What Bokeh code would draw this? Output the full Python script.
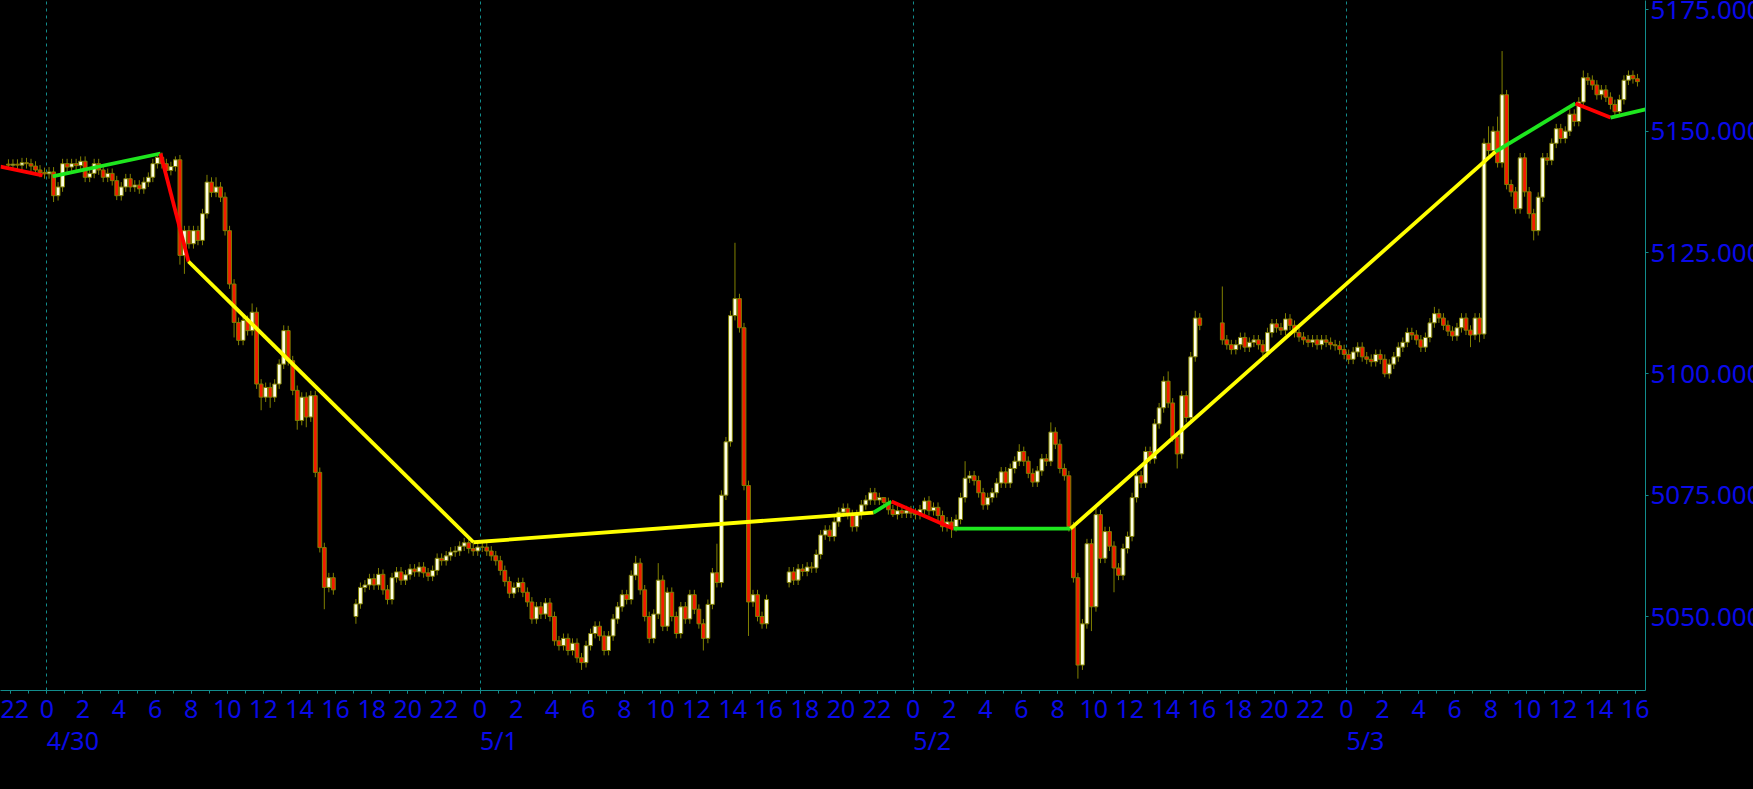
import numpy as np
from bokeh.plotting import figure
from bokeh.layouts import row
from bokeh.models import Range1d, FixedTicker, LinearAxis
from bokeh.core.properties import value
from bokeh.embed import file_html
from bokeh.resources import INLINE

# ---------------- data ----------------
# time axis: hours counted from 4/30 00:00
hour_ticks = list(range(-2, 89, 2))
hour_labels = [str(h % 24) for h in hour_ticks]
minor_hours = list(range(-2, 89))
day_ticks = [0, 24, 48, 72]
day_labels = ["4/30", "5/1", "5/2", "5/3"]
price_ticks = [5050, 5075, 5100, 5125, 5150, 5175]
price_labels = ["5050.000", "5075.000", "5100.000", "5125.000", "5150.000", "5175.000"]

# 15-minute candles, one list of closes per trading session
sess_start = [-2.25, 17.0, 41.0, 65.0]
sess_open = [5143.2, 5050.0, 5057.0, 5110.5]

close_s1 = [
    5143.0, 5143.2, 5143.0, 5143.5, 5143.3, 5142.8, 5142.0, 5141.5, 5141.2,
    5141.6, 5136.7, 5138.5, 5143.3, 5142.6, 5143.3, 5142.9, 5143.8, 5140.5, 5141.3, 5143.3, 5142.0, 5140.5, 5141.3, 5139.8, 5136.7,
    5138.5, 5140.2, 5138.5, 5138.9, 5138.1, 5139.5, 5140.5, 5143.3, 5144.6, 5143.3, 5141.9, 5142.7, 5144.1, 5124.4, 5129.5, 5126.8,
    5129.5, 5127.5, 5133.0, 5139.5, 5137.4, 5138.5, 5136.4, 5129.5, 5118.5, 5110.6, 5106.9, 5111.0, 5108.9, 5112.7, 5097.9, 5095.2,
    5097.2, 5095.2, 5097.9, 5102.0, 5108.9, 5102.7, 5096.6, 5090.4, 5095.2, 5091.1, 5095.5, 5079.7, 5064.2, 5056.0, 5058.0, 5055.5,
]
close_s2 = [
    5052.6, 5056.0, 5056.5, 5057.8, 5056.5, 5058.7, 5055.5, 5053.5, 5058.0, 5059.2, 5057.5, 5058.6, 5059.8, 5059.2,
    5060.2, 5059.0, 5058.3, 5059.5, 5062.0, 5061.5, 5062.5, 5063.3, 5063.5, 5064.5, 5065.2, 5064.0, 5063.5, 5064.3,
    5064.3, 5063.5, 5062.5, 5061.5, 5059.5, 5057.2, 5054.8, 5056.0, 5057.0, 5055.0,
    5053.0, 5049.5, 5052.0, 5050.5, 5052.8, 5050.0, 5045.0, 5044.0, 5045.5, 5043.0,
    5044.5, 5041.5, 5040.5, 5044.0, 5046.5, 5048.0, 5046.0, 5043.0, 5046.0, 5049.5,
    5052.0, 5054.5, 5053.5, 5058.5, 5061.0, 5055.5, 5050.0, 5045.5, 5050.5, 5057.5,
    5048.0, 5055.0, 5050.0, 5046.5, 5052.0, 5049.5, 5054.5, 5051.5, 5048.5, 5045.5,
    5052.5, 5059.0, 5057.0, 5075.0, 5086.0, 5112.0, 5115.5, 5109.5, 5077.0, 5053.0,
    5054.5, 5050.0, 5048.5, 5053.5,
]
close_s3 = [
    5059.2, 5057.5, 5059.8, 5059.3, 5060.2, 5060.0, 5062.8, 5066.8, 5067.8, 5066.5,
    5069.5, 5071.5, 5072.3, 5071.0, 5068.5, 5071.0, 5073.0, 5074.0, 5075.5, 5074.0,
    5074.5, 5073.5, 5072.0, 5071.0, 5071.8, 5071.3, 5071.8, 5071.3, 5071.0, 5072.0,
    5073.8, 5071.8, 5072.5, 5070.8, 5068.5, 5069.5, 5068.5, 5070.0, 5074.5, 5078.5,
    5079.0, 5078.0, 5075.5, 5073.0, 5074.5, 5075.5, 5077.5, 5079.8, 5077.5, 5080.5,
    5082.0, 5084.0, 5082.0, 5079.5, 5077.7, 5080.0, 5082.5, 5082.0, 5088.0, 5085.5,
    5080.5, 5079.0, 5068.5, 5058.0, 5040.0, 5048.5, 5065.0, 5052.0, 5071.0, 5062.0,
    5067.5, 5064.5, 5060.0, 5058.5, 5064.0, 5066.5, 5074.5, 5079.0, 5077.5, 5084.0,
    5082.5, 5089.7, 5093.0, 5098.5, 5094.0, 5087.0, 5083.5, 5095.5, 5091.0, 5103.5,
    5111.5, 5110.0,
]
close_s4 = [
    5107.0, 5106.0, 5105.0, 5106.0, 5107.5, 5105.5, 5106.5, 5107.0, 5106.0, 5104.5,
    5108.5, 5110.3, 5109.5, 5109.0, 5111.3, 5110.0, 5108.5, 5107.6, 5107.0, 5106.5,
    5107.0, 5106.0, 5107.0, 5106.5, 5106.0, 5105.8, 5105.0, 5104.0, 5103.0, 5104.5,
    5105.5, 5103.5, 5103.0, 5102.5, 5104.0, 5103.0, 5100.0, 5102.0, 5103.5, 5105.5,
    5106.5, 5108.5, 5108.0, 5107.0, 5105.5, 5107.5, 5110.5, 5112.4, 5111.5, 5110.0,
    5108.8, 5107.8, 5109.5, 5111.5, 5109.0, 5108.0, 5111.5, 5108.2, 5147.5, 5146.0,
    5150.0, 5143.5, 5157.5, 5139.0, 5137.5, 5134.0, 5144.5, 5137.5, 5133.0, 5129.5,
    5136.4, 5144.5, 5144.0, 5147.5, 5150.5, 5148.5, 5150.0, 5153.5, 5152.0, 5156.0,
    5161.0, 5160.5, 5159.5, 5157.5, 5158.5, 5157.0, 5155.5, 5154.0, 5156.5, 5160.5,
    5161.5, 5160.8, 5160.2,
]

# long wicks that were readable (candle start time, price)
wick_hi_t = [6.0, 7.0, 8.75, 9.25, 11.25, 13.0, 14.5, 18.25, 23.5, 32.5, 33.75, 37.0, 38.0,
             46.25, 48.5, 50.75, 53.75, 55.5, 58.0, 62.0, 63.5, 65.0, 68.5, 76.75, 79.75, 80.25, 80.5, 85.0]
wick_hi_p = [5145.5, 5144.8, 5141.0, 5140.5, 5114.5, 5110.0, 5096.5, 5060.0, 5065.4, 5062.5, 5061.0, 5065.0, 5127.0,
             5074.5, 5074.5, 5082.0, 5085.5, 5090.0, 5072.5, 5100.5, 5113.0, 5118.0, 5112.5, 5113.8, 5151.0, 5153.0, 5166.5, 5162.5]
wick_lo_t = [0.25, 3.75, 7.25, 7.5, 10.25, 11.75, 12.25, 13.75, 14.25, 15.25, 17.0, 29.5, 36.25, 38.75,
             46.75, 50.0, 57.0, 57.75, 59.0, 62.5, 67.25, 74.0, 78.75, 79.25, 82.25, 86.75]
wick_lo_p = [5135.4, 5135.8, 5122.5, 5120.6, 5107.5, 5092.5, 5093.0, 5088.5, 5089.0, 5051.5, 5048.5, 5039.0, 5043.0, 5046.0,
             5070.5, 5066.2, 5037.2, 5047.0, 5055.0, 5080.5, 5103.0, 5099.3, 5105.5, 5106.5, 5127.5, 5153.0]

# zig-zag overlay: vertices and the coloured legs joining them
zz_t = [-2.565, -0.24, 0.32, 6.30, 7.85, 23.64, 45.80, 46.80, 50.23, 56.72, 80.26, 84.69, 86.63, 88.57]
zz_p = [5142.7, 5140.9, 5140.7, 5145.4, 5123.15, 5065.3, 5071.4, 5073.7, 5068.1, 5068.1, 5145.8, 5155.7, 5152.8, 5154.5]
zz_legs = [(0, 1), (2, 3), (3, 4), (4, 5), (5, 6), (6, 7), (7, 8), (8, 9), (9, 10), (10, 11), (11, 12), (12, 13)]
zz_kind = ["dn", "up", "dn", "tr", "tr", "up", "dn", "up", "tr", "up", "dn", "up"]

# ---------------- build candles ----------------
hi_map = {round(t * 4): v for t, v in zip(wick_hi_t, wick_hi_p)}
lo_map = {round(t * 4): v for t, v in zip(wick_lo_t, wick_lo_p)}
T, O, H, L, C = [], [], [], [], []
for start, op, closes in zip(sess_start, sess_open, [close_s1, close_s2, close_s3, close_s4]):
    prev = op
    for i, cl in enumerate(closes):
        ts = start + 0.25 * i
        key = round(ts * 4)
        o = prev
        hi = max(hi_map.get(key, max(o, cl) + 1.0), o, cl)
        lo = min(lo_map.get(key, min(o, cl) - 1.0), o, cl)
        T.append(ts + 0.125); O.append(o); H.append(hi); L.append(lo); C.append(cl)
        prev = cl
T, O, H, L, C = map(np.array, (T, O, H, L, C))
up = C >= O
dn = ~up

TEAL = "#128c8c"
BLUE = "#0a0ae8"
OLIVE = "#808000"
FONT = "Noto Sans"
XFS = 25
YFS = 26

W, HGT = 1753, 789
FRAME_W, FRAME_H = 1645, 690
AXIS_W = 5                      # right axis line + outward ticks
MAIN_W = FRAME_W + AXIS_W
LABEL_W = W - MAIN_W            # strip holding the price labels
X0, X1 = -2.565, 88.57
PX_PER_H = FRAME_W / (X1 - X0)

yr = Range1d(5034.76, 5176.92)

p = figure(width=MAIN_W, height=HGT,
           x_range=Range1d(X0, X1), y_range=yr,
           y_axis_location="right", output_backend="svg", toolbar_location=None,
           background_fill_color="black", border_fill_color="black",
           min_border_left=0, min_border_top=0, min_border_right=AXIS_W,
           min_border_bottom=HGT - FRAME_H,
           outline_line_color=None)

# grid: dashed vertical lines at day boundaries
p.ygrid.visible = False
p.xgrid.ticker = FixedTicker(ticks=day_ticks)
p.xgrid.grid_line_color = TEAL
p.xgrid.grid_line_dash = "3 4"
p.xgrid.grid_line_width = 1

# candles
p.segment(T, H, T, L, line_color=OLIVE, line_width=1)
p.vbar(x=T[up], width=0.21, top=C[up], bottom=O[up], fill_color="#ffffe6", line_color=OLIVE, line_width=1)
p.vbar(x=T[dn], width=0.21, top=O[dn], bottom=C[dn], fill_color="#f41a00", line_color=OLIVE, line_width=1)

# zig-zag
kind_color = {"up": "#1ee61e", "dn": "#ff0000", "tr": "#ffff00"}
for (a, b), k in zip(zz_legs, zz_kind):
    p.line([zz_t[a], zz_t[b]], [zz_p[a], zz_p[b]], line_color=kind_color[k], line_width=3.8)

# bottom hour axis
xa = p.xaxis[0]
xa.ticker = FixedTicker(ticks=hour_ticks, minor_ticks=minor_hours)
xa.major_label_overrides = {t: s for t, s in zip(hour_ticks, hour_labels)}
xa.axis_line_color = TEAL
xa.major_tick_line_color = TEAL
xa.minor_tick_line_color = TEAL
xa.major_tick_out = 3
xa.major_tick_in = 0
xa.minor_tick_out = 3
xa.minor_tick_in = 0
xa.major_label_standoff = 6
xa.major_label_text_color = BLUE
xa.major_label_text_font = FONT
xa.major_label_text_font_size = f"{XFS}px"


# date labels start at the midnight line: shift each centred tick label by half its width
def half_width_hours(s):
    em = {"/": 0.37}
    w = sum(em.get(ch, 0.572) for ch in s) * XFS
    return w / 2.0 / PX_PER_H


date_pos = [d + half_width_hours(s) for d, s in zip(day_ticks, day_labels)]
da = LinearAxis(ticker=FixedTicker(ticks=date_pos),
                major_label_overrides={t: s for t, s in zip(date_pos, day_labels)})
da.axis_line_color = None
da.major_tick_line_color = None
da.minor_tick_line_color = None
da.major_tick_out = 0
da.major_tick_in = 0
da.major_label_standoff = 2
da.major_label_text_color = BLUE
da.major_label_text_font = FONT
da.major_label_text_font_size = f"{XFS}px"
p.add_layout(da, "below")

# right price axis: line and outward ticks only
ya = p.yaxis[0]
ya.ticker = FixedTicker(ticks=price_ticks)
ya.major_label_overrides = {t: "" for t in price_ticks}
ya.axis_line_color = TEAL
ya.major_tick_line_color = TEAL
ya.minor_tick_line_color = None
ya.major_tick_out = 3
ya.major_tick_in = 0
ya.major_label_standoff = 0

# price labels in a strip to the right sharing the price range (cut at the window edge like the original)
q = figure(width=LABEL_W, height=HGT, x_range=Range1d(0, LABEL_W), y_range=yr,
           x_axis_location=None, y_axis_location=None,
           output_backend="svg", toolbar_location=None,
           background_fill_color="black", border_fill_color="black",
           min_border_left=0, min_border_top=0, min_border_right=0,
           min_border_bottom=HGT - FRAME_H, outline_line_color=None)
q.xgrid.visible = False
q.ygrid.visible = False
q.text(x=[0] * len(price_ticks), y=price_ticks, text=price_labels,
       text_color=BLUE, text_font=value(FONT), text_font_size=value(f"{YFS}px"),
       text_align="left", text_baseline="middle")

layout = row(p, q, spacing=0, styles={"background-color": "black"})
open("out.html", "w").write(file_html(layout, INLINE))
